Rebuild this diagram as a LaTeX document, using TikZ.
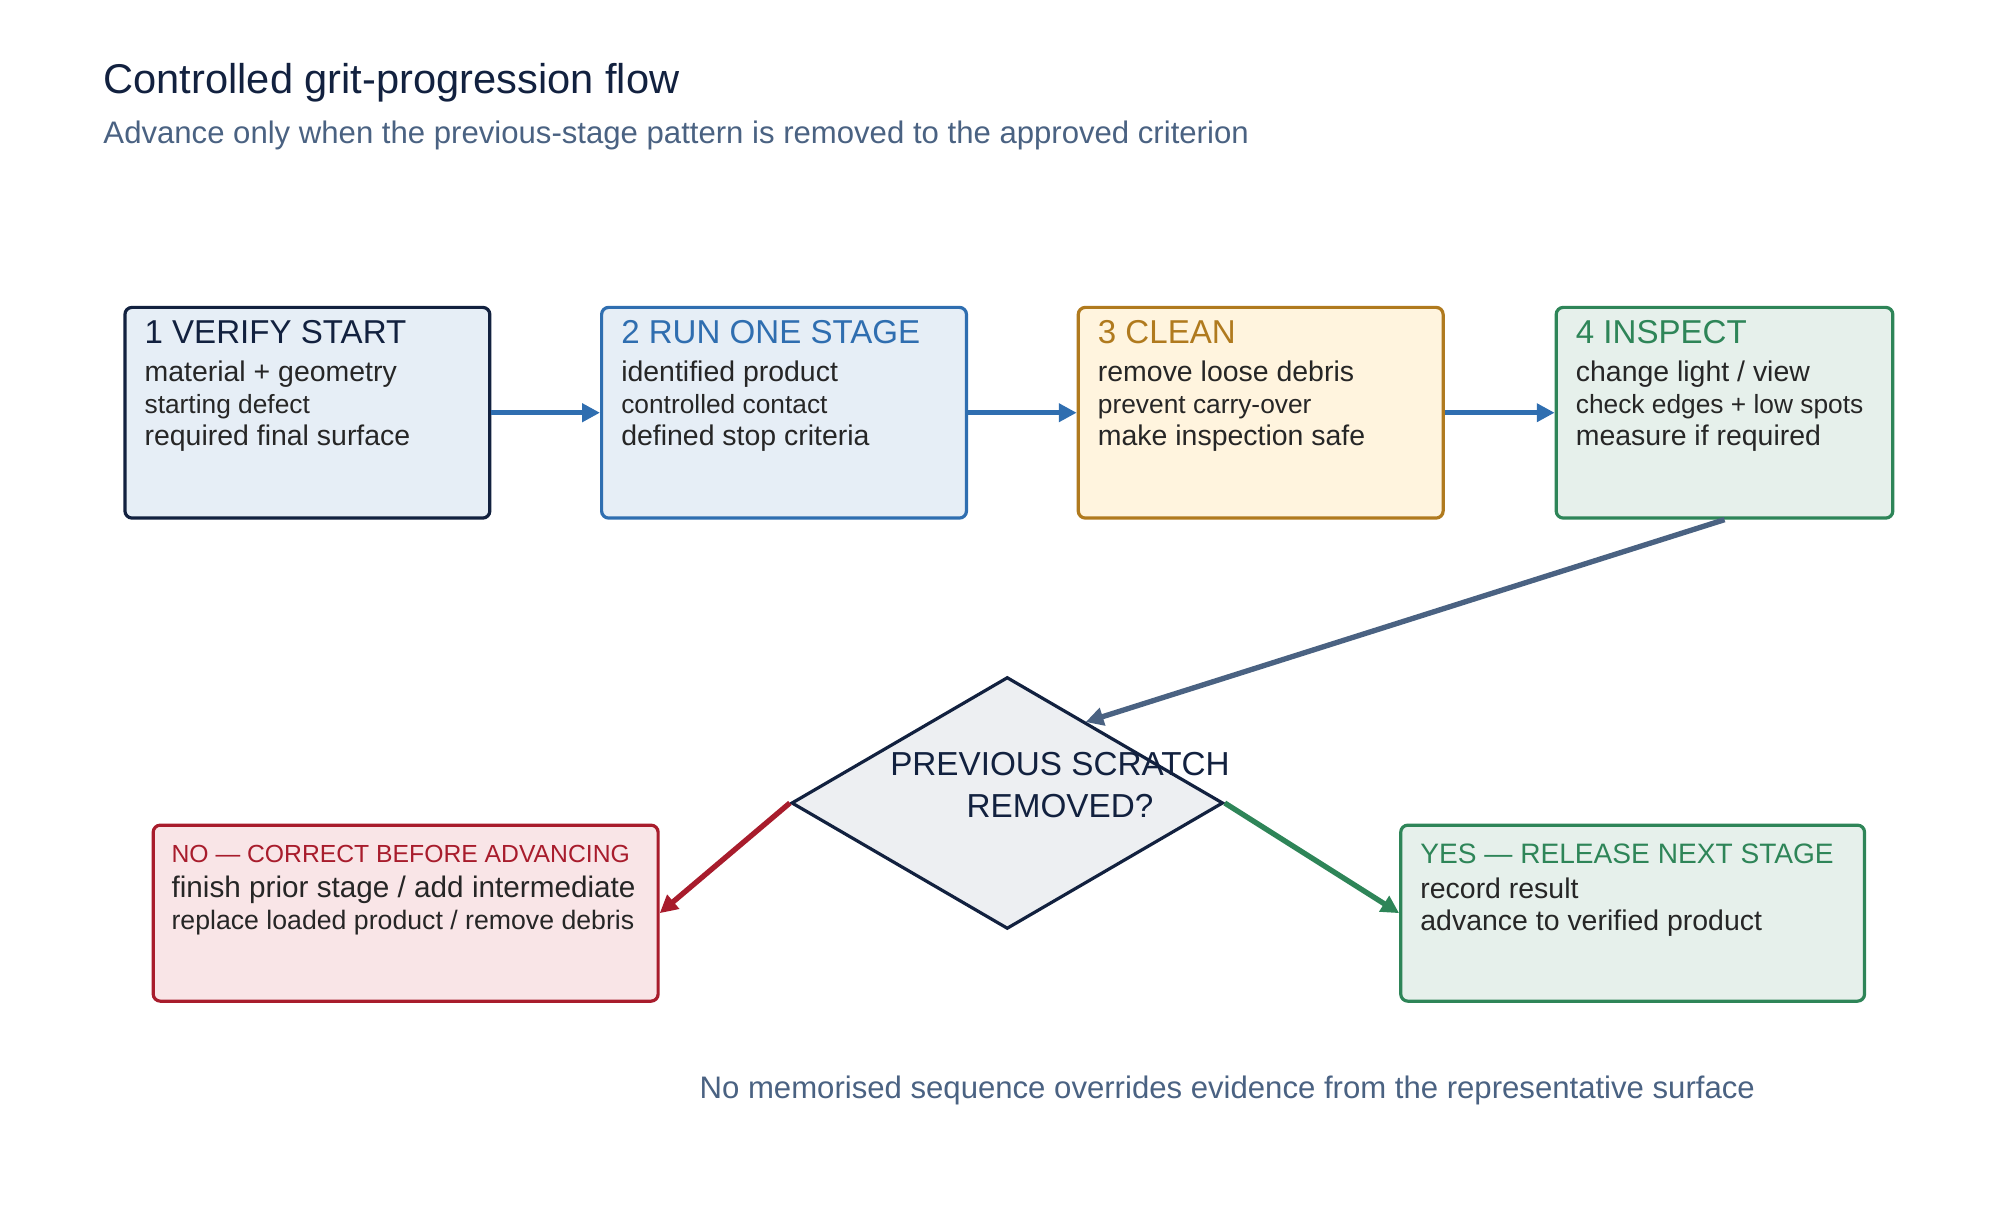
\documentclass[tikz,border=0pt]{standalone}
\usepackage{fontspec}
\setmainfont{Liberation Sans}
\usetikzlibrary{shapes.geometric,arrows.meta}
\definecolor{navy}{HTML}{12213F}
\definecolor{slate}{HTML}{4A6282}
\definecolor{stblue}{HTML}{2F6EB0}
\definecolor{storange}{HTML}{B07A1E}
\definecolor{stgreen}{HTML}{2E8558}
\definecolor{stred}{HTML}{A81C2C}
\definecolor{orfill}{HTML}{FFF4DE}
\definecolor{rdfill}{HTML}{F9E5E7}
\newcommand{\hd}{\fontsize{9.3}{9}\selectfont}
\newcommand{\bd}{\fontsize{8.0}{9}\selectfont}
\newcommand{\smt}{\fontsize{7.4}{9}\selectfont}
\tikzset{
  stage/.style={draw, rounded corners=2pt, line width=0.9pt, anchor=north west, inner sep=0pt},
  txt/.style={anchor=north west, align=left, inner sep=0pt, text=black!85, font=\fontsize{8}{9}\selectfont},
  flow/.style={line width=1.5pt, -{Triangle[length=5pt,width=5pt]}}
}
\begin{document}
\begin{tikzpicture}[x=0.0127cm, y=-0.0127cm]
\useasboundingbox (0,0) rectangle (1552,957);
% titles
\node[anchor=base west, inner sep=0, text=navy, font=\fontsize{11.7}{13}\selectfont] (title) at (80,73) {Controlled grit-progression flow};
\node[anchor=base west, inner sep=0, text=slate, font=\fontsize{8.75}{10}\selectfont] (sub) at (80,112) {Advance only when the previous-stage pattern is removed to the approved criterion};
% stages
\node[stage, draw=navy, fill=stblue!12, minimum width=284*0.0127cm, minimum height=164*0.0127cm] (s1) at (96,238) {};
\node[stage, draw=stblue, fill=stblue!12, minimum width=284*0.0127cm, minimum height=164*0.0127cm] (s2) at (467,238) {};
\node[stage, draw=storange, fill=orfill, minimum width=284*0.0127cm, minimum height=164*0.0127cm] (s3) at (838,238) {};
\node[stage, draw=stgreen, fill=stgreen!12, minimum width=262*0.0127cm, minimum height=164*0.0127cm] (s4) at (1210,238) {};
\node[txt] (t1) at (112,249) {{\hd\color{navy}1 VERIFY START}\\[1.5pt]{\bd material + geometry}\\{\smt starting defect}\\{\bd required final surface}};
\node[txt] (t2) at (483,249) {{\hd\color{stblue}2 RUN ONE STAGE}\\[1.5pt]{\bd identified product}\\{\smt controlled contact}\\{\bd defined stop criteria}};
\node[txt] (t3) at (854,249) {{\hd\color{storange}3 CLEAN}\\[1.5pt]{\bd remove loose debris}\\{\smt prevent carry-over}\\{\bd make inspection safe}};
\node[txt] (t4) at (1226,249) {{\hd\color{stgreen}4 INSPECT}\\[1.5pt]{\bd change light / view}\\{\smt check edges + low spots}\\{\bd measure if required}};
\draw[flow, stblue] (s1.east) -- (s2.west);
\draw[flow, stblue] (s2.east) -- (s3.west);
\draw[flow, stblue] (s3.east) -- (s4.west);
% decision
\node[diamond, draw=navy, line width=0.9pt, fill=slate!10, minimum width=336*0.0127cm, minimum height=196*0.0127cm, inner sep=0, aspect=1.7] (dec) at (784,625) {};
\node[align=center, text=navy, font=\fontsize{9.35}{11.9}\selectfont] (dq) at (825,611) {PREVIOUS SCRATCH\\REMOVED?};
\coordinate (din) at (845,562);
\draw[flow, slate] (s4.south) -- (din);
% outcomes
\node[stage, draw=stred, fill=rdfill, minimum width=393*0.0127cm, minimum height=137*0.0127cm] (no) at (118,641) {};
\node[stage, draw=stgreen, fill=stgreen!12, minimum width=361*0.0127cm, minimum height=137*0.0127cm] (yes) at (1089,641) {};
\node[txt] (tno) at (133,657) {{\fontsize{6.95}{9}\selectfont\color{stred}NO — CORRECT BEFORE ADVANCING}\\[1pt]{\fontsize{8.35}{9}\selectfont finish prior stage / add intermediate}\\{\fontsize{7.5}{9}\selectfont replace loaded product / remove debris}};
\node[txt] (tyes) at (1105,656) {{\fontsize{7.9}{9}\selectfont\color{stgreen}YES — RELEASE NEXT STAGE}\\[1pt]{\bd record result}\\{\bd advance to verified product}};
\draw[flow, stred] (dec.west) -- (no.east);
\draw[flow, stgreen] (dec.east) -- (yes.west);
% footer
\node[anchor=base west, inner sep=0, text=slate, font=\fontsize{8.75}{10}\selectfont] (foot) at (544,855) {No memorised sequence overrides evidence from the representative surface};
\end{tikzpicture}
\end{document}
